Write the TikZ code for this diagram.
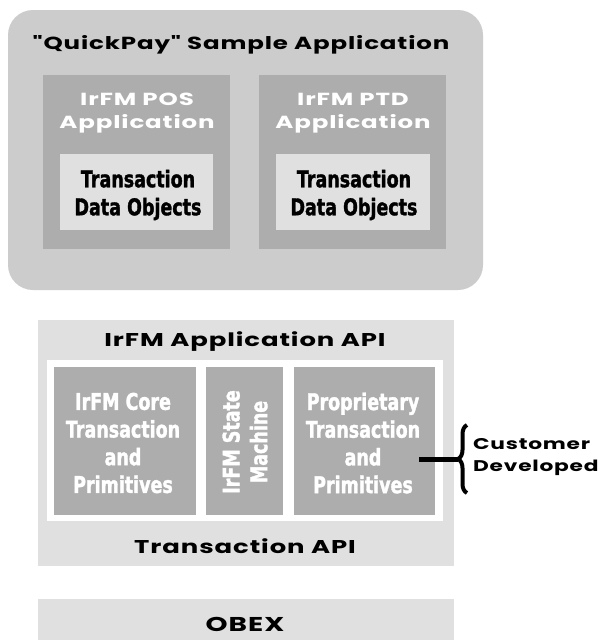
\documentclass[tikz,border=0pt]{standalone}
\usepackage{fontspec}
\usetikzlibrary{decorations.pathreplacing}
\newfontfamily\widefont{Poppins Bold}[FakeStretch=1.4, LetterSpace=5]
\newfontfamily\condfont{DejaVu Sans Bold}[FakeStretch=0.76, FakeBold=1.5]
\definecolor{outerg}{HTML}{CCCCCC}
\definecolor{darkg}{HTML}{ADADAD}
\definecolor{lightg}{HTML}{E0E0E0}
\tikzset{
  box/.style={inner sep=0pt, outer sep=0pt, draw=none},
  widetxt/.style={font=\widefont\fontsize{18.5}{22}\selectfont, align=center, inner sep=0pt},
  whitewide/.style={font=\widefont\fontsize{17.5}{23}\selectfont, text=white, align=center, inner sep=0pt},
  condblack/.style={font=\condfont\fontsize{23}{28}\selectfont, align=center, inner sep=0pt},
  condwhite/.style={font=\condfont\fontsize{23}{27.7}\selectfont, text=white, align=center, inner sep=0pt},
}
\begin{document}
\begin{tikzpicture}[x=1pt,y=-1pt]
\useasboundingbox[fill=white] (0,0) rectangle (608,640);
% top group
\node[box, fill=outerg, rounded corners=25pt, minimum width=475pt, minimum height=280pt] (outer) at (245.5,150) {};
\node[widetxt, font=\widefont\fontsize{17.5}{22}\selectfont] (title) at (241,45) {"QuickPay" Sample Application};
\node[box, fill=darkg, minimum width=187pt, minimum height=174pt] (pos) at (136.5,162) {};
\node[box, fill=darkg, minimum width=187pt, minimum height=174pt] (ptd) at (352.5,162) {};
\node[whitewide] (poslbl) at (137,113.5) {IrFM POS\\Application};
\node[whitewide] (ptdlbl) at (353,113.5) {IrFM PTD\\Application};
\node[box, fill=lightg, minimum width=153pt, minimum height=76pt] (posin) at (136.5,192) {};
\node[box, fill=lightg, minimum width=154pt, minimum height=76pt] (ptdin) at (353,192) {};
\node[condblack] (postxt) at (138,195) {Transaction\\Data Objects};
\node[condblack] (ptdtxt) at (354,195) {Transaction\\Data Objects};
% API group
\node[box, fill=lightg, minimum width=416pt, minimum height=246pt] (api) at (246,443) {};
\node[widetxt] (apititle) at (245,342) {IrFM Application API};
\node[box, fill=white, minimum width=396pt, minimum height=161pt] (wbox) at (245,440.5) {};
\node[box, fill=darkg, minimum width=142pt, minimum height=148pt] (core) at (125,441) {};
\node[box, fill=darkg, minimum width=77pt, minimum height=148pt] (sm) at (244.5,441) {};
\node[box, fill=darkg, minimum width=141pt, minimum height=148pt] (prop) at (364.5,441) {};
\node[condwhite] (coretxt) at (123,443) {IrFM Core\\Transaction\\and\\Primitives};
\node[condwhite, rotate=90] (smtxt) at (245,442) {IrFM State\\Machine};
\node[condwhite] (proptxt) at (363,443) {Proprietary\\Transaction\\and\\Primitives};
\node[widetxt] (tapi) at (245,546) {Transaction API};
% OBEX
\node[box, fill=lightg, minimum width=416pt, minimum height=41pt] (obex) at (246,619.5) {};
\node[widetxt, font=\widefont\fontsize{20}{22}\selectfont] (obextxt) at (245,624) {OBEX};
% brace
\draw[line width=4pt, decorate, decoration={brace, amplitude=9pt}] (467,493) -- (467,425);
\coordinate (tip) at (458,459);
\coordinate (ls) at (419,459);
\draw[line width=5pt] (ls) -- (tip);
\node[widetxt, anchor=west, align=left, font=\widefont\fontsize{15.5}{22}\selectfont] (cust) at (473,457) {Customer\\Developed};
\end{tikzpicture}
\end{document}
